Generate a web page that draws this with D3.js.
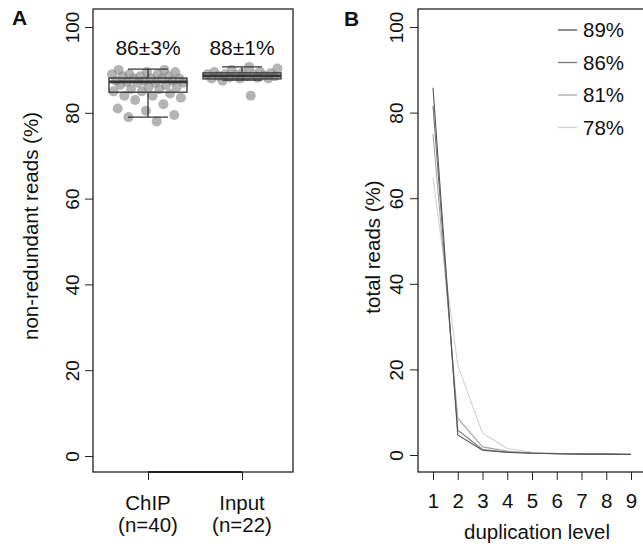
<!DOCTYPE html>
<html><head><meta charset="utf-8">
<script src="https://cdn.jsdelivr.net/npm/d3@7"></script>
<style>body{margin:0;background:#fff}svg{display:block}text{font-family:"Liberation Sans",Arial,Helvetica,sans-serif;fill:#111}</style>
</head><body><svg id="c" width="643" height="547"></svg>
<script>
// ---- Panel A data ----
const groups = ["ChIP", "Input"];
const groupN = ["(n=40)", "(n=22)"];
const groupLabel = ["86±3%", "88±1%"];
const chipValues = [78, 79, 79.5, 80.5, 81, 82, 83, 83.5, 84, 84, 84.5, 85, 85, 85.5, 85.5, 86, 86, 86.5, 86.5, 87, 87, 87, 87.2, 87.5, 87.5, 87.5, 88, 88, 88, 88, 88.5, 88.5, 88.5, 89, 89, 89, 89.5, 89.5, 90, 90];
const inputValues = [84, 87.5, 88, 88, 88, 88.2, 88.3, 88.5, 88.5, 88.6, 88.7, 88.8, 89, 89, 89, 89.2, 89.3, 89.5, 89.5, 90, 90.3, 90.7];
// box stats: [lower whisker, Q1, median, Q3, upper whisker]
const chipBox = [79, 84.8, 87.2, 88.1, 90.2];
const inputBox = [87.6, 87.9, 88.6, 89.3, 90.7];
const yTicks = [0, 20, 40, 60, 80, 100];

// ---- Panel B data ----
const dupLevels = [1, 2, 3, 4, 5, 6, 7, 8, 9];
const seriesNames = ["89%", "86%", "81%", "78%"];
const s89 = [85.8, 4.7, 1.1, 0.6, 0.4, 0.3, 0.2, 0.2, 0.1];
const s86 = [81.6, 5.8, 1.3, 0.7, 0.4, 0.3, 0.2, 0.2, 0.1];
const s81 = [75.0, 8.6, 1.9, 0.9, 0.5, 0.3, 0.3, 0.2, 0.2];
const s78 = [64.8, 21.0, 5.1, 1.5, 0.7, 0.4, 0.3, 0.2, 0.2];
const seriesColors = ["#555555", "#777777", "#a9a9a9", "#d2d2d2"];

const svg = d3.select("#c");
svg.append("rect").attr("width", 643).attr("height", 547).attr("fill", "#fff");

const FS = 20.5, TFS = 19;
// ---------- Panel A ----------
const A = {l: 93, r: 293, t: 9, b: 472};
const yA = d3.scaleLinear().domain([0, 100]).range([456, 27]);
const xA = d3.scalePoint().domain(groups).range([148, 242]);

const gA = svg.append("g");
const jit = (i) => (((i * 0.6180339887) % 1) - 0.5) * 2 * 37;
[chipValues, inputValues].forEach((vals, gi) => {
  gA.append("g").selectAll("circle").data(vals).join("circle")
    .attr("cx", (d, i) => xA(groups[gi]) + jit(i + 1))
    .attr("cy", d => yA(d))
    .attr("r", 5)
    .attr("fill", "#8c8c8c").attr("fill-opacity", 0.65);
});
const bw = 39, cap = 20;
[chipBox, inputBox].forEach((b, gi) => {
  const cx = xA(groups[gi]);
  const g = gA.append("g").attr("stroke", "#333").attr("fill", "none").attr("stroke-width", 1.3);
  g.append("rect").attr("x", cx - bw).attr("width", 2 * bw)
    .attr("y", yA(b[3])).attr("height", yA(b[1]) - yA(b[3]));
  g.append("line").attr("x1", cx - bw).attr("x2", cx + bw).attr("y1", yA(b[2])).attr("y2", yA(b[2])).attr("stroke-width", 2.6);
  g.append("line").attr("x1", cx).attr("x2", cx).attr("y1", yA(b[3])).attr("y2", yA(b[4]));
  g.append("line").attr("x1", cx).attr("x2", cx).attr("y1", yA(b[1])).attr("y2", yA(b[0]));
  g.append("line").attr("x1", cx - cap).attr("x2", cx + cap).attr("y1", yA(b[4])).attr("y2", yA(b[4]));
  g.append("line").attr("x1", cx - cap).attr("x2", cx + cap).attr("y1", yA(b[0])).attr("y2", yA(b[0]));
  gA.append("text").attr("x", cx).attr("y", 55).attr("text-anchor", "middle")
    .attr("font-size", 21).text(groupLabel[gi]);
});
gA.append("rect").attr("x", A.l).attr("y", A.t).attr("width", A.r - A.l).attr("height", A.b - A.t)
  .attr("fill", "none").attr("stroke", "#222").attr("stroke-width", 1.3);
const yAxA = gA.append("g").attr("transform", `translate(${A.l},0)`)
  .call(d3.axisLeft(yA).tickValues(yTicks).tickSize(8).tickFormat(d3.format("d")));
yAxA.select(".domain").remove();
yAxA.selectAll("line").attr("stroke", "#222");
yAxA.selectAll("text").attr("font-size", TFS).attr("x", null).attr("dy", null)
  .attr("text-anchor", "middle").attr("transform", "translate(-14,0) rotate(-90)");
const xAxA = gA.append("g").attr("transform", `translate(0,${A.b})`)
  .call(d3.axisBottom(xA).tickSize(8).tickFormat(""));
xAxA.select(".domain").attr("d", `M${xA(groups[0])},0H${xA(groups[1])}`).attr("stroke", "#222").attr("stroke-width", 2);
xAxA.selectAll("line").attr("stroke", "#222");
groups.forEach((g, i) => {
  gA.append("text").attr("x", xA(g)).attr("y", 510).attr("text-anchor", "middle").attr("font-size", FS).text(g);
  gA.append("text").attr("x", xA(g)).attr("y", 532).attr("text-anchor", "middle").attr("font-size", FS).text(groupN[i]);
});
gA.append("text").attr("transform", `translate(38,226) rotate(-90)`).attr("text-anchor", "middle")
  .attr("font-size", FS).text("non-redundant reads (%)");
svg.append("text").attr("x", 12).attr("y", 25).attr("font-size", 21).attr("font-weight", "bold").text("A");

// ---------- Panel B ----------
const B = {l: 418, r: 646, t: 9, b: 472};
const yB = d3.scaleLinear().domain([0, 100]).range([455, 27]);
const xB = d3.scaleLinear().domain([1, 9]).range([433, 631]);
const gB = svg.append("g");
const seriesData = [s89, s86, s81, s78];
const line = d3.line().x((d, i) => xB(dupLevels[i])).y(d => yB(d));
[3, 2, 1, 0].forEach(si => {
  gB.append("path").attr("d", line(seriesData[si])).attr("fill", "none")
    .attr("stroke", seriesColors[si]).attr("stroke-width", 1.1);
});
gB.append("rect").attr("x", B.l).attr("y", B.t).attr("width", B.r - B.l).attr("height", B.b - B.t)
  .attr("fill", "none").attr("stroke", "#222").attr("stroke-width", 1.3);
const yAxB = gB.append("g").attr("transform", `translate(${B.l},0)`)
  .call(d3.axisLeft(yB).tickValues(yTicks).tickSize(8).tickFormat(d3.format("d")));
yAxB.select(".domain").remove();
yAxB.selectAll("line").attr("stroke", "#222");
yAxB.selectAll("text").attr("font-size", TFS).attr("x", null).attr("dy", null)
  .attr("text-anchor", "middle").attr("transform", "translate(-15,0) rotate(-90)");
const xAxB = gB.append("g").attr("transform", `translate(0,${B.b})`)
  .call(d3.axisBottom(xB).tickValues(dupLevels).tickSize(8).tickFormat(d3.format("d")));
xAxB.select(".domain").remove();
xAxB.selectAll("line").attr("stroke", "#222");
xAxB.selectAll("text").attr("font-size", FS).attr("dy", null).attr("y", 36);
gB.append("text").attr("x", 537).attr("y", 539).attr("text-anchor", "middle").attr("font-size", FS).text("duplication level");
gB.append("text").attr("transform", `translate(380,247) rotate(-90)`).attr("text-anchor", "middle")
  .attr("font-size", FS).text("total reads (%)");
seriesNames.forEach((n, i) => {
  const y = 30 + i * 32.5;
  gB.append("line").attr("x1", 558).attr("x2", 577).attr("y1", y).attr("y2", y)
    .attr("stroke", seriesColors[i]).attr("stroke-width", 1.3);
  gB.append("text").attr("x", 583).attr("y", y + 7).attr("font-size", FS).text(n);
});
svg.append("text").attr("x", 344).attr("y", 26).attr("font-size", 21).attr("font-weight", "bold").text("B");
</script></body></html>
